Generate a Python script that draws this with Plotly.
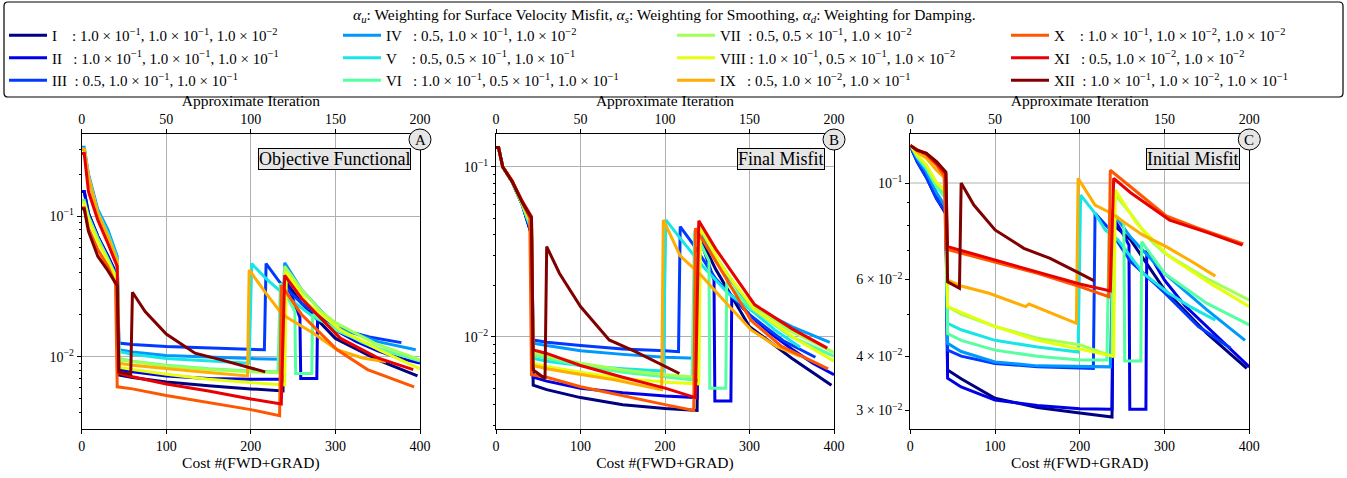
import plotly.graph_objects as go

# ---------------- legend / labels ----------------
NAMES = ["I", "II", "III", "IV", "V", "VI", "VII", "VIII", "IX", "X", "XI", "XII"]
COLORS = ["#000080", "#0000e9", "#003aff", "#0097ff", "#18e6e6", "#56ffa1",
          "#a1ff56", "#e6ff0b", "#ffad00", "#ff5700", "#e90000", "#800000"]
E1 = "1.0 × 10<sup>−1</sup>"
E2 = "1.0 × 10<sup>−2</sup>"
H1 = "0.5 × 10<sup>−1</sup>"
ALPHA_U = [E1, E1, "0.5", "0.5", "0.5", E1, "0.5", E1, "0.5", E1, "0.5", E1]
ALPHA_S = [E1, E1, E1, E1, H1, H1, H1, H1, E2, E2, E2, E2]
ALPHA_D = [E2, E1, E1, E2, E1, E1, E2, E2, E1, E2, E2, E1]
LEGEND_RANK = [1, 5, 9, 2, 6, 10, 3, 7, 11, 4, 8, 12]
LEGEND_TITLE = ("<i>α<sub>u</sub></i>: Weighting for Surface Velocity Misfit, "
                "<i>α<sub>s</sub></i>: Weighting for Smoothing, "
                "<i>α<sub>d</sub></i>: Weighting for Damping.")

# ---------------- data: cost, objective, final misfit, initial misfit ----------------
X_I = [0, 3, 8, 19, 31, 42, 44, 60, 100, 150, 200, 238, 240, 260, 300, 350, 397]
OBJ_I = [0.15, 0.15, 0.105, 0.072, 0.052, 0.037, 0.0074, 0.0071, 0.0066, 0.0062, 0.0059, 0.0057, 0.035, 0.024, 0.0135, 0.0095, 0.0073]
FIN_I = [0.13, 0.13, 0.10, 0.082, 0.060, 0.040, 0.0052, 0.0049, 0.0044, 0.0040, 0.0038, 0.0037, 0.040, 0.025, 0.0115, 0.0075, 0.0052]
INI_I = [0.122, 0.118, 0.113, 0.104, 0.093, 0.085, 0.0372, 0.0355, 0.032, 0.0305, 0.0296, 0.029, 0.080, 0.074, 0.0568, 0.0451, 0.0375]

X_II = [0, 3, 8, 19, 31, 42, 44, 60, 100, 150, 200, 238, 240, 250, 258, 259, 278, 279, 300, 325, 350, 375, 400]
OBJ_II = [0.15, 0.15, 0.105, 0.072, 0.052, 0.038, 0.0081, 0.0078, 0.0073, 0.0070, 0.0069, 0.0069, 0.037, 0.026, 0.019, 0.0070, 0.0070, 0.021, 0.0155, 0.0128, 0.011, 0.0098, 0.009]
FIN_II = [0.13, 0.13, 0.10, 0.082, 0.060, 0.040, 0.0058, 0.0055, 0.0050, 0.0047, 0.0045, 0.0044, 0.040, 0.028, 0.0216, 0.0042, 0.0042, 0.0175, 0.0135, 0.0105, 0.0085, 0.007, 0.006]
INI_II = [0.122, 0.118, 0.112, 0.103, 0.092, 0.085, 0.0356, 0.034, 0.0317, 0.0308, 0.0303, 0.0302, 0.083, 0.077, 0.072, 0.0302, 0.0302, 0.0701, 0.0598, 0.052, 0.0468, 0.042, 0.0378]

X_III = [0, 3, 8, 19, 31, 42, 44, 60, 100, 150, 200, 216, 218, 234, 260, 300, 340, 378]
OBJ_III = [0.30, 0.30, 0.19, 0.105, 0.072, 0.048, 0.0125, 0.0122, 0.0118, 0.0115, 0.0113, 0.0112, 0.046, 0.034, 0.024, 0.016, 0.0138, 0.0126]
FIN_III = [0.13, 0.13, 0.10, 0.082, 0.060, 0.042, 0.0096, 0.0093, 0.0089, 0.0085, 0.0083, 0.0082, 0.0446, 0.0347, 0.022, 0.0135, 0.0095, 0.0076]
INI_III = [0.122, 0.118, 0.112, 0.103, 0.092, 0.086, 0.0413, 0.040, 0.0385, 0.0378, 0.0375, 0.0375, 0.0852, 0.0787, 0.066, 0.056, 0.0468, 0.0417]

X_IV = [0, 3, 8, 19, 31, 42, 44, 60, 100, 150, 200, 236, 240, 260, 300, 350, 395]
OBJ_IV = [0.31, 0.31, 0.20, 0.112, 0.08, 0.052, 0.0112, 0.0108, 0.0102, 0.0099, 0.0097, 0.0096, 0.0467, 0.030, 0.0164, 0.0128, 0.0112]
FIN_IV = [0.13, 0.13, 0.10, 0.082, 0.060, 0.042, 0.0092, 0.0089, 0.0083, 0.0079, 0.0076, 0.0075, 0.042, 0.028, 0.0155, 0.0115, 0.0093]
INI_IV = [0.122, 0.119, 0.114, 0.106, 0.095, 0.088, 0.0428, 0.041, 0.0388, 0.038, 0.0378, 0.0378, 0.085, 0.075, 0.062, 0.0511, 0.0435]

X_V = [0, 3, 8, 19, 31, 42, 44, 60, 100, 150, 198, 201, 218, 230, 245, 275, 305, 330, 360]
OBJ_V = [0.30, 0.30, 0.19, 0.108, 0.076, 0.05, 0.0109, 0.0104, 0.0097, 0.0093, 0.0090, 0.046, 0.036, 0.031, 0.026, 0.019, 0.0155, 0.0128, 0.0108]
FIN_V = [0.13, 0.13, 0.10, 0.082, 0.061, 0.045, 0.0075, 0.0072, 0.0068, 0.0065, 0.0063, 0.0488, 0.038, 0.032, 0.026, 0.018, 0.014, 0.011, 0.0087]
INI_V = [0.122, 0.12, 0.116, 0.109, 0.099, 0.093, 0.0476, 0.046, 0.0435, 0.042, 0.0409, 0.0938, 0.0852, 0.078, 0.074, 0.062, 0.0558, 0.052, 0.0484]

X_VI = [0, 3, 8, 19, 31, 42, 44, 60, 100, 150, 200, 232, 235, 252, 253, 272, 273, 300, 350, 400]
OBJ_VI = [0.13, 0.13, 0.10, 0.07, 0.05, 0.036, 0.0097, 0.0093, 0.0087, 0.0082, 0.0079, 0.0078, 0.0334, 0.021, 0.0076, 0.0076, 0.020, 0.0155, 0.0115, 0.0093]
FIN_VI = [0.13, 0.13, 0.10, 0.082, 0.060, 0.043, 0.0078, 0.0075, 0.0068, 0.0062, 0.0058, 0.0056, 0.042, 0.028, 0.005, 0.005, 0.021, 0.015, 0.010, 0.0077]
INI_VI = [0.122, 0.12, 0.115, 0.108, 0.098, 0.092, 0.0451, 0.0435, 0.0413, 0.040, 0.0392, 0.0392, 0.087, 0.081, 0.039, 0.039, 0.0733, 0.062, 0.0529, 0.0472]

X_VII = [0, 3, 8, 19, 31, 42, 44, 60, 100, 150, 200, 238, 240, 260, 283, 300, 346, 400]
OBJ_VII = [0.30, 0.30, 0.19, 0.105, 0.072, 0.048, 0.0095, 0.0092, 0.0086, 0.0081, 0.0078, 0.0077, 0.044, 0.030, 0.021, 0.0175, 0.0125, 0.0095]
FIN_VII = [0.13, 0.13, 0.10, 0.082, 0.061, 0.046, 0.0081, 0.0077, 0.0070, 0.0064, 0.0060, 0.0058, 0.045, 0.030, 0.020, 0.016, 0.011, 0.0081]
INI_VII = [0.122, 0.12, 0.116, 0.11, 0.10, 0.095, 0.052, 0.050, 0.0468, 0.044, 0.0425, 0.040, 0.095, 0.085, 0.074, 0.069, 0.0609, 0.0538]

X_VIII = [0, 3, 8, 19, 31, 42, 44, 60, 100, 150, 207, 240, 242, 267, 306, 354, 400]
OBJ_VIII = [0.125, 0.125, 0.095, 0.066, 0.048, 0.035, 0.0084, 0.0081, 0.0075, 0.0069, 0.0065, 0.0063, 0.040, 0.024, 0.0155, 0.011, 0.0082]
FIN_VIII = [0.13, 0.13, 0.10, 0.082, 0.061, 0.046, 0.0070, 0.0067, 0.0062, 0.0057, 0.0054, 0.0053, 0.045, 0.026, 0.0145, 0.0098, 0.0072]
INI_VIII = [0.122, 0.12, 0.116, 0.11, 0.10, 0.096, 0.052, 0.0505, 0.0468, 0.0435, 0.0413, 0.040, 0.0963, 0.0808, 0.0677, 0.0588, 0.052]

X_IX = [0, 3, 8, 19, 31, 42, 44, 60, 93, 136, 140, 196, 198, 218, 233, 243, 274, 302, 332, 360]
OBJ_IX = [0.30, 0.30, 0.19, 0.105, 0.072, 0.048, 0.0090, 0.0087, 0.0083, 0.0078, 0.0078, 0.0073, 0.0415, 0.0283, 0.0215, 0.019, 0.0147, 0.0112, 0.0098, 0.0092]
FIN_IX = [0.13, 0.13, 0.10, 0.083, 0.062, 0.05, 0.0068, 0.0065, 0.0061, 0.0056, 0.0056, 0.0049, 0.0488, 0.030, 0.0255, 0.023, 0.0155, 0.011, 0.0088, 0.0077]
INI_IX = [0.122, 0.121, 0.118, 0.114, 0.107, 0.102, 0.0598, 0.058, 0.0558, 0.052, 0.0527, 0.0476, 0.1025, 0.089, 0.086, 0.0837, 0.076, 0.0714, 0.066, 0.0611]

X_X = [0, 3, 8, 19, 31, 40, 42, 60, 100, 150, 200, 234, 236, 260, 302, 338, 393]
OBJ_X = [0.115, 0.115, 0.082, 0.058, 0.044, 0.033, 0.0061, 0.0059, 0.0053, 0.0047, 0.0042, 0.0038, 0.0323, 0.020, 0.0112, 0.0081, 0.0061]
FIN_X = [0.13, 0.13, 0.10, 0.083, 0.062, 0.05, 0.0060, 0.0058, 0.0051, 0.0045, 0.0040, 0.0037, 0.0436, 0.028, 0.0125, 0.0088, 0.0065]
INI_X = [0.122, 0.121, 0.119, 0.116, 0.11, 0.104, 0.0705, 0.069, 0.066, 0.062, 0.0578, 0.0548, 0.107, 0.098, 0.084, 0.079, 0.0725]

X_XI = [0, 3, 8, 19, 31, 42, 44, 60, 100, 150, 200, 236, 240, 260, 306, 350, 392]
OBJ_XI = [0.28, 0.28, 0.15, 0.094, 0.064, 0.044, 0.0076, 0.0072, 0.0064, 0.0057, 0.0050, 0.0046, 0.038, 0.026, 0.0135, 0.0098, 0.0081]
FIN_XI = [0.13, 0.13, 0.10, 0.083, 0.063, 0.051, 0.0084, 0.0080, 0.0068, 0.0058, 0.0050, 0.0044, 0.0483, 0.033, 0.0155, 0.0112, 0.0086]
INI_XI = [0.122, 0.121, 0.119, 0.117, 0.111, 0.105, 0.0714, 0.070, 0.0665, 0.0625, 0.0586, 0.0565, 0.1025, 0.095, 0.0822, 0.077, 0.072]

X_XII = [0, 3, 8, 19, 31, 42, 44, 58, 60, 75, 100, 134, 165, 200, 217]
OBJ_XII = [0.113, 0.113, 0.078, 0.052, 0.041, 0.032, 0.0078, 0.0075, 0.0288, 0.021, 0.0145, 0.0106, 0.0095, 0.0083, 0.0078]
FIN_XII = [0.13, 0.13, 0.10, 0.082, 0.062, 0.05, 0.0064, 0.0057, 0.034, 0.0237, 0.0151, 0.0096, 0.0082, 0.0067, 0.0061]
INI_XII = [0.122, 0.121, 0.119, 0.117, 0.112, 0.106, 0.0593, 0.0573, 0.10, 0.089, 0.078, 0.0708, 0.0671, 0.062, 0.0596]

# top (secondary) axis: approximate iteration
ITER_TICKS = [0, 50, 100, 150, 200]
COST_TICKS = [0, 100, 200, 300, 400]

XS = [X_I, X_II, X_III, X_IV, X_V, X_VI, X_VII, X_VIII, X_IX, X_X, X_XI, X_XII]
OBJ = [OBJ_I, OBJ_II, OBJ_III, OBJ_IV, OBJ_V, OBJ_VI, OBJ_VII, OBJ_VIII, OBJ_IX, OBJ_X, OBJ_XI, OBJ_XII]
FIN = [FIN_I, FIN_II, FIN_III, FIN_IV, FIN_V, FIN_VI, FIN_VII, FIN_VIII, FIN_IX, FIN_X, FIN_XI, FIN_XII]
INI = [INI_I, INI_II, INI_III, INI_IV, INI_V, INI_VI, INI_VII, INI_VIII, INI_IX, INI_X, INI_XI, INI_XII]

W, H = 1347, 478
FONT = "Liberation Serif"
NB = "\u00a0"

fig = go.Figure()
panels = [("x", "y", OBJ), ("x2", "y2", FIN), ("x3", "y3", INI)]
for p, (xa, ya, data) in enumerate(panels):
    for i, nm in enumerate(NAMES):
        label = nm + NB * (5 - len(nm)) + ": " + ALPHA_U[i] + ", " + ALPHA_S[i] + ", " + ALPHA_D[i]
        fig.add_trace(go.Scatter(
            x=XS[i], y=data[i], mode="lines", xaxis=xa, yaxis=ya,
            line=dict(color=COLORS[i], width=3),
            name=label, legendrank=LEGEND_RANK[i], showlegend=(p == 0),
            hoverinfo="skip"))
    # invisible trace to activate the top axis
    fig.add_trace(go.Scatter(x=[0, 200], y=[data[0][0], data[0][0]], mode="lines",
                             line=dict(width=0), opacity=0, showlegend=False,
                             hoverinfo="skip", xaxis="x%d" % (p + 4), yaxis=ya))

def px2x(px):
    return px / W

def py2y(py):
    return 1 - py / H

doms = [(81.7, 420.0), (496.0, 834.0), (910.3, 1249.3)]
ydom = [py2y(429.3), py2y(134.3)]
yranges = [[-2.517, -0.416], [-2.543, -0.808], [-1.566, -0.888]]

tickfont = dict(family=FONT, size=14, color="black")
titlefont = dict(family=FONT, size=15.5, color="black")

layout = dict(
    width=W, height=H, margin=dict(l=0, r=0, t=0, b=0),
    paper_bgcolor="white", plot_bgcolor="white",
    font=dict(family=FONT, size=13, color="black"),
    showlegend=True,
)
minor_dec = [k * 10 ** e for e in (-3, -2, -1) for k in range(2, 10)]
for p in range(3):
    sfx = "" if p == 0 else str(p + 1)
    d0, d1 = doms[p]
    layout["xaxis" + sfx] = dict(
        domain=[px2x(d0), px2x(d1)], anchor="y" + sfx, range=[0, 400],
        tickvals=COST_TICKS, ticks="outside", ticklen=4, tickcolor="black",
        showline=True, linecolor="black", linewidth=1, mirror=True,
        showgrid=True, gridcolor="#b0b0b0", gridwidth=1, zeroline=False,
        tickfont=tickfont, automargin=False,
        title=dict(text="Cost #(FWD+GRAD)", font=titlefont, standoff=3))
    layout["xaxis%d" % (p + 4)] = dict(
        overlaying="x" + sfx, anchor="y" + sfx, side="top", range=[0, 200],
        tickvals=ITER_TICKS, ticks="outside", ticklen=4, tickcolor="black",
        showline=True, linecolor="black", linewidth=1,
        showgrid=False, zeroline=False, tickfont=tickfont, automargin=False,
        title=dict(text="Approximate Iteration", font=titlefont, standoff=1))
    ya = dict(
        domain=ydom, anchor="x" + sfx, type="log", range=yranges[p],
        ticks="outside", ticklen=4, tickcolor="black",
        showline=True, linecolor="black", linewidth=1, mirror=True,
        zeroline=False, tickfont=tickfont, automargin=False,
        minor=dict(ticks="outside", ticklen=2, tickcolor="black", showgrid=False))
    if p < 2:
        ya.update(tickvals=[0.1, 0.01], ticktext=["10<sup>−1</sup>", "10<sup>−2</sup>"],
                  showgrid=True, gridcolor="#b0b0b0", gridwidth=1)
        ya["minor"]["tickvals"] = minor_dec
    else:
        ya.update(tickvals=[0.03, 0.04, 0.06, 0.1],
                  ticktext=["3 × 10<sup>−2</sup>", "4 × 10<sup>−2</sup>", "6 × 10<sup>−2</sup>", "10<sup>−1</sup>"],
                  showgrid=False)
        ya["minor"]["tickvals"] = [0.05, 0.07, 0.08, 0.09]
    layout["yaxis" + sfx] = ya

fig.update_layout(**layout)

# horizontal grid line at 10^-1 in panel C (major decade only)
fig.add_shape(type="line", xref="x3 domain", yref="y3", x0=0, x1=1, y0=0.1, y1=0.1,
              line=dict(color="#b0b0b0", width=1), layer="below")

# panel text boxes and circled letters
box_titles = ["Objective Functional", "Final Misfit", "Initial Misfit"]
box_right = [410.5, 825.0, 1239.5]
letters = ["A", "B", "C"]
for p in range(3):
    fig.add_annotation(x=px2x(box_right[p]), y=py2y(147.5), xref="paper", yref="paper",
                       xanchor="right", yanchor="top", text=box_titles[p], showarrow=False,
                       font=dict(family=FONT, size=18, color="black"),
                       bgcolor="#e6e6e6", bordercolor="black", borderwidth=1, borderpad=0)
    cx = doms[p][1]
    fig.add_shape(type="circle", xref="paper", yref="paper",
                  x0=px2x(cx - 11), x1=px2x(cx + 11), y0=py2y(150), y1=py2y(129),
                  fillcolor="#e6e6e6", line=dict(color="black", width=1))
    fig.add_annotation(x=px2x(cx), y=py2y(139.5), xref="paper", yref="paper",
                       xanchor="center", yanchor="middle", text=letters[p], showarrow=False,
                       font=dict(family=FONT, size=15, color="black"))

# legend frame (rounded box) and its title
bx0, by0, bx1, by1, r = 4.0, 2.0, 1343.0, 97.0, 4.0
def P(px, py):
    return "%.5f,%.5f" % (px2x(px), py2y(py))
frame = ("M " + P(bx0 + r, by0) + " L " + P(bx1 - r, by0) + " Q " + P(bx1, by0) + " " + P(bx1, by0 + r) +
         " L " + P(bx1, by1 - r) + " Q " + P(bx1, by1) + " " + P(bx1 - r, by1) +
         " L " + P(bx0 + r, by1) + " Q " + P(bx0, by1) + " " + P(bx0, by1 - r) +
         " L " + P(bx0, by0 + r) + " Q " + P(bx0, by0) + " " + P(bx0 + r, by0) + " Z")
fig.add_shape(type="path", xref="paper", yref="paper", path=frame,
              line=dict(color="black", width=1.2), fillcolor="rgba(0,0,0,0)")
fig.add_annotation(x=px2x(664), y=py2y(16), xref="paper", yref="paper",
                   xanchor="center", yanchor="middle", text=LEGEND_TITLE, showarrow=False,
                   font=dict(family=FONT, size=15.5, color="black"))

fig.update_layout(legend=dict(
    orientation="h", x=px2x(4), y=py2y(19), xanchor="left", yanchor="top",
    xref="paper", yref="paper",
    bgcolor="rgba(0,0,0,0)", borderwidth=0,
    entrywidth=281, entrywidthmode="pixels", tracegroupgap=0,
    font=dict(family=FONT, size=15, color="black"), itemwidth=38))

# the page body's default 8px margin would shift the figure; remove it
fig.write_html("out.html", config={"displayModeBar": False},
               post_script="document.body.style.margin='0px';")
